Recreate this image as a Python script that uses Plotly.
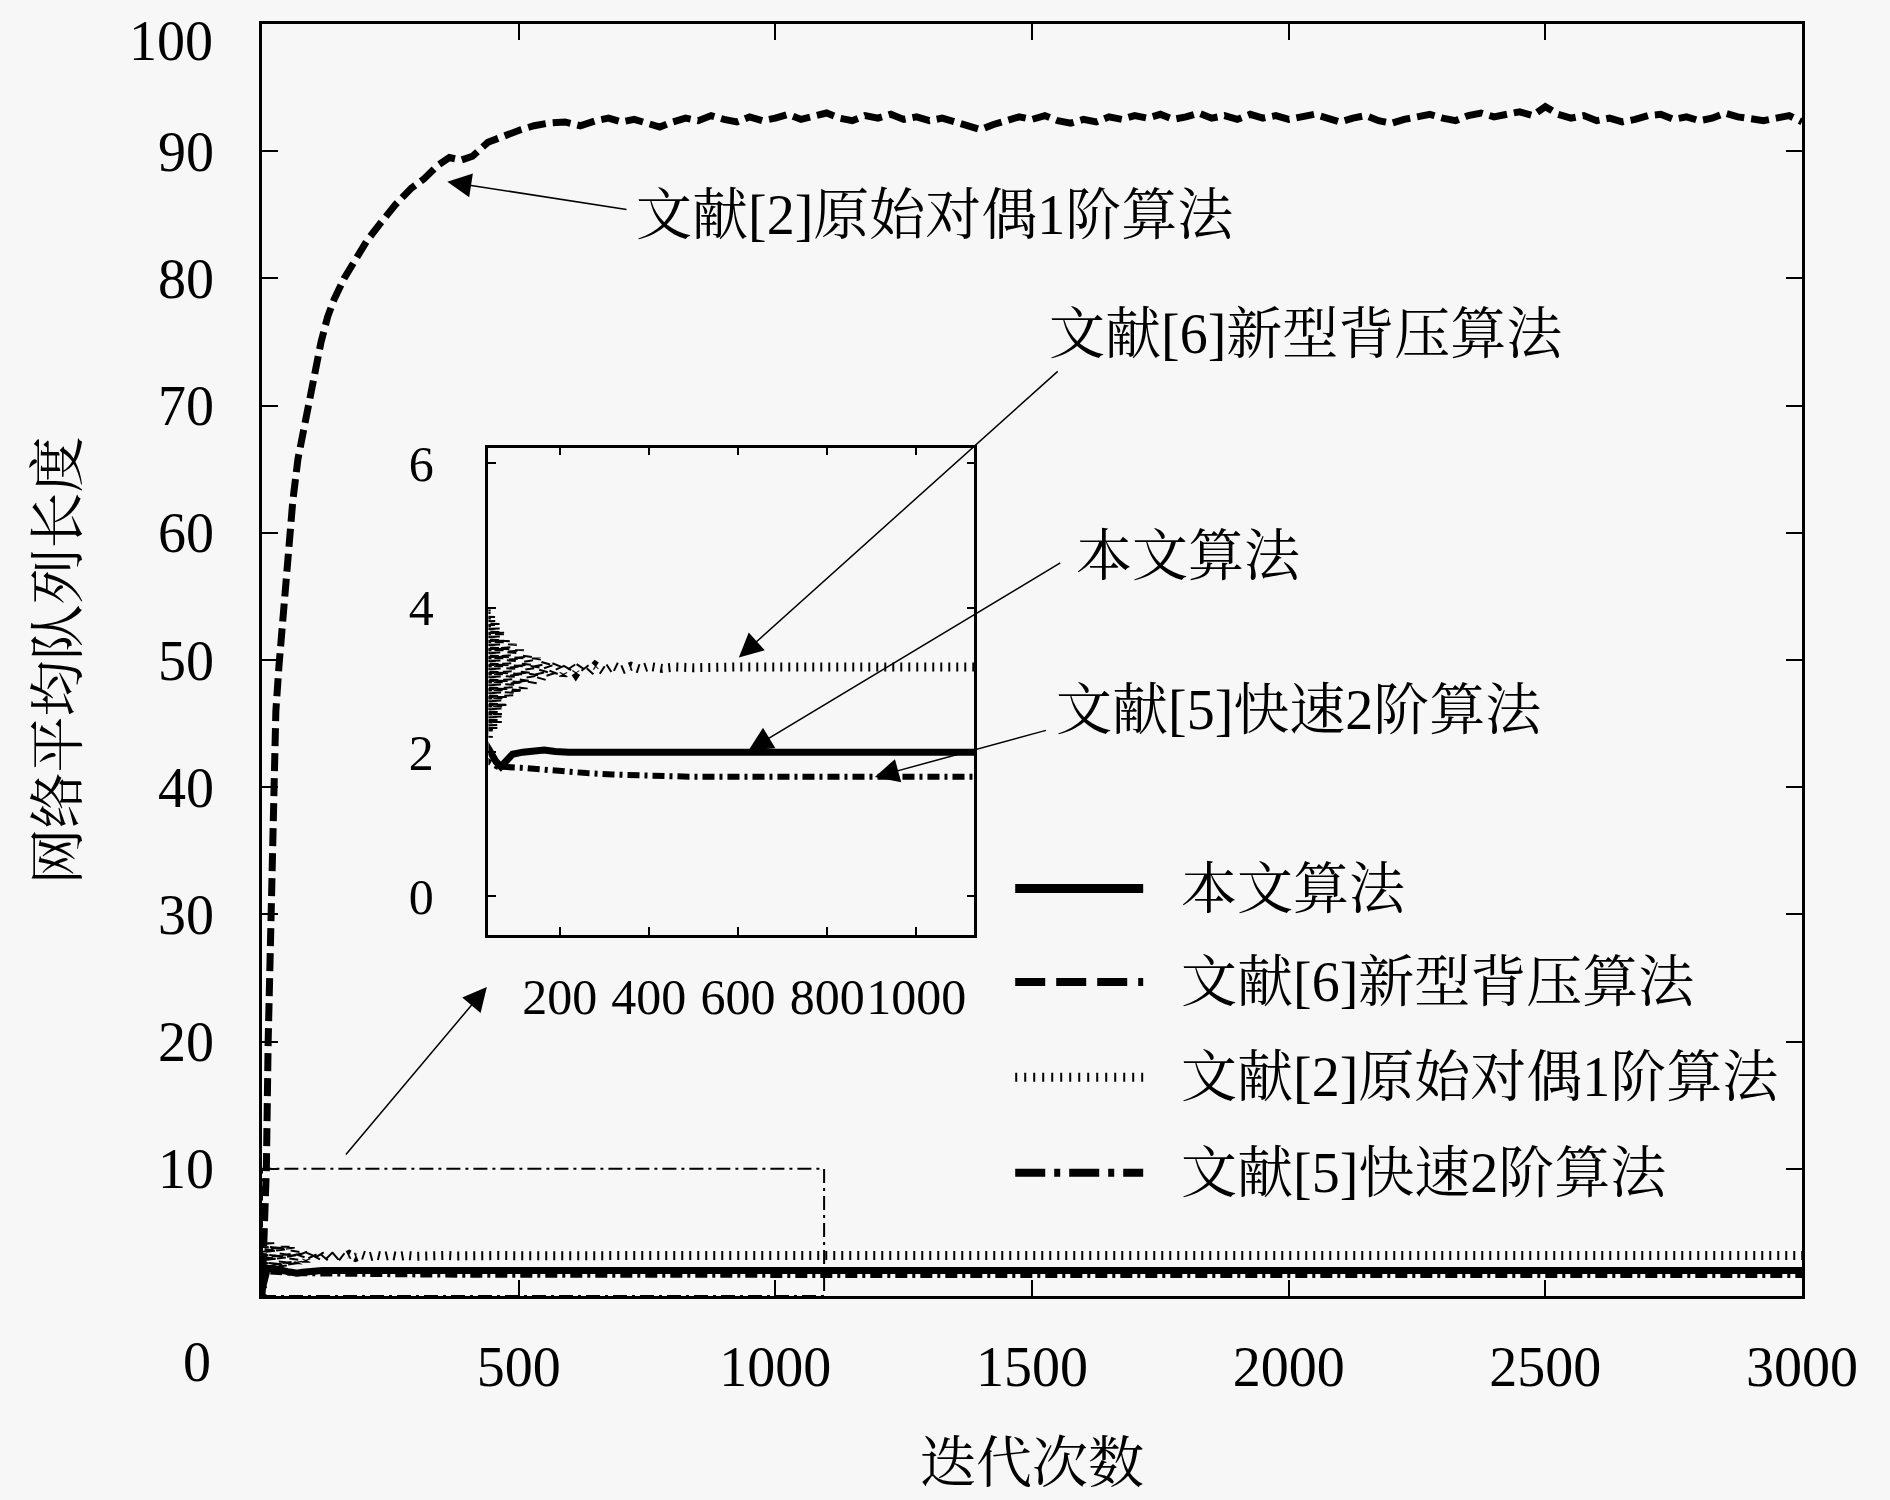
import plotly.graph_objects as go

# curva superior (tracejada) - chega a ~92
top_x = [0, 3, 6, 8.5, 12, 17, 21.5, 27, 33, 40, 50, 60, 70, 80, 90, 102, 115, 128, 141, 160,
         180, 205, 232, 260, 291, 315, 343, 365, 388, 410, 440, 470, 505, 530, 557, 590, 620,
         650, 675, 700, 725, 750, 775, 800, 825, 850, 875, 900, 925, 950, 975, 1000, 1025,
         1050, 1075, 1100, 1125, 1150, 1175, 1200, 1225, 1250, 1275, 1300, 1325, 1350, 1375,
         1400, 1425, 1450, 1475, 1500, 1525, 1550, 1575, 1600, 1625, 1650, 1675, 1700, 1725,
         1750, 1775, 1800, 1825, 1850, 1875, 1900, 1925, 1950, 1975, 2000, 2025, 2050, 2075,
         2100, 2125, 2150, 2175, 2200, 2225, 2250, 2275, 2300, 2325, 2350, 2375, 2400, 2425,
         2450, 2475, 2500, 2525, 2550, 2575, 2600, 2625, 2650, 2675, 2700, 2725, 2750, 2775,
         2800, 2825, 2850, 2875, 2900, 2925, 2950, 2975, 3000]
top_y = [0, 3, 7, 10, 20, 30, 39, 46, 49.5, 53, 58.5, 62.5, 65.8, 68, 70, 72.6, 75.0, 77, 78.4, 80,
         81.4, 83, 84.4, 85.8, 87.1, 87.8, 88.9, 89.5, 89.3, 89.6, 90.7, 91.2, 91.7, 92.0, 92.2, 92.3, 92.0,
         92.4, 92.6, 92.3, 92.5, 92.2, 91.9, 92.3, 92.6, 92.4, 92.8, 92.5, 92.3, 92.7, 92.4, 92.6, 92.9,
         92.5, 92.7, 93.0, 92.6, 92.4, 92.8, 92.6, 92.9, 92.5, 92.7, 92.4, 92.6, 92.3, 92.0,
         91.7, 92.1, 92.4, 92.7, 92.5, 92.8, 92.4, 92.2, 92.5, 92.3, 92.7, 92.5, 92.8, 92.6,
         92.9, 92.5, 92.7, 93.0, 92.6, 92.8, 92.5, 92.9, 92.6, 92.8, 92.5, 92.7, 92.9, 92.6,
         92.3, 92.6, 92.8, 92.4, 92.2, 92.5, 92.7, 92.9, 92.6, 92.4, 92.8, 93.0, 92.7, 92.9,
         93.1, 92.8, 93.5, 92.9, 92.6, 92.8, 92.4, 92.6, 92.3, 92.5, 92.8, 92.9, 92.5, 92.7,
         92.4, 92.6, 93.0, 92.7, 92.5, 92.4, 92.6, 92.8, 92.3]

# curva pontilhada (~3.2)
dot_x = [0, 5, 10, 15, 20, 25, 30, 35, 40, 45, 50, 55, 60, 65, 70, 78, 86, 94, 102, 110,
         118, 128, 138, 148, 158, 170, 182, 195, 208, 222, 236, 250, 265, 280, 300, 320, 340, 360, 380, 400,
         430, 460, 500, 550, 600, 650, 700, 800, 900, 1000, 1200, 1500, 2000, 2500, 3000]
dot_y = [0.0, 4.3, 2.0, 4.2, 2.1, 4.1, 2.2, 4.0, 2.2, 3.9, 2.3, 3.8, 2.4, 3.7, 2.6, 3.55, 2.75, 3.5, 2.8, 3.42,
         2.88, 3.35, 2.95, 3.3, 3.0, 3.26, 3.04, 3.24, 3.07, 3.22, 3.09, 3.22, 3.1, 3.2, 3.12, 3.2, 3.14, 3.19, 3.15, 3.19,
         3.16, 3.18, 3.17, 3.19, 3.18, 3.18, 3.18, 3.18, 3.18, 3.18, 3.18, 3.18, 3.18, 3.18, 3.18]

# curva continua (~2.0)
sol_x = [0, 5, 10, 20, 30, 40, 50, 57, 68, 79, 94, 117, 140, 165, 190, 220, 300, 500, 1000, 2000, 3000]
sol_y = [0.5, 1.6, 2.1, 2.2, 2.15, 2.05, 1.92, 1.87, 1.8, 1.87, 1.97, 2.0, 2.01, 2.03, 2.01, 2.0, 2.0, 2.0, 2.0, 2.0, 2.0]

# curva traco-ponto (~1.66)
dd_x = [0, 5, 10, 20, 30, 40, 60, 80, 102, 124, 160, 206, 260, 319, 380, 431, 490, 543, 700, 1000, 1500, 2000, 2500, 3000]
dd_y = [0.3, 1.5, 1.95, 1.95, 1.9, 1.87, 1.8, 1.8, 1.8, 1.78, 1.76, 1.73, 1.71, 1.69, 1.675, 1.665, 1.66, 1.66,
        1.66, 1.66, 1.66, 1.66, 1.66, 1.66]

main_xticks = [500, 1000, 1500, 2000, 2500, 3000]
main_yticks = [10, 20, 30, 40, 50, 60, 70, 80, 90, 100]
main_yticktext = ['10', '20', '30', '40', '50', '60', '70', '80', '90', '']
inset_xticks = [200, 400, 600, 800, 1000]
inset_yticks = [0, 2, 4, 6]

legend_names = ['本文算法', '文献[6]新型背压算法', '文献[2]原始对偶1阶算法', '文献[5]快速2阶算法']

FONT = 'Liberation Serif, Noto Serif CJK SC, Noto Sans CJK SC, serif'
BG = '#f7f7f7'

solid = dict(color='black', width=7)
dashed = dict(color='black', width=7, dash='18px,7px')
dotted = dict(color='black', width=9, dash='2px,6px')
dashdot = dict(color='black', width=6, dash='12px,5px,3px,5px')

fig = go.Figure()

# grafico principal
fig.add_trace(go.Scatter(x=top_x, y=top_y, mode='lines', line=dashed,
                         name='文献[2]原始对偶1阶算法', showlegend=False))
fig.add_trace(go.Scatter(x=dot_x, y=dot_y, mode='lines', line=dotted,
                         name='文献[6]新型背压算法', showlegend=False))
fig.add_trace(go.Scatter(x=dd_x, y=dd_y, mode='lines', line=dashdot,
                         name='文献[5]快速2阶算法', showlegend=False))
fig.add_trace(go.Scatter(x=sol_x, y=sol_y, mode='lines', line=solid,
                         name='本文算法', showlegend=False))

# grafico ampliado
fig.add_trace(go.Scatter(x=dot_x, y=dot_y, mode='lines', line=dotted, xaxis='x2', yaxis='y2', showlegend=False))
fig.add_trace(go.Scatter(x=dd_x, y=dd_y, mode='lines', line=dashdot, xaxis='x2', yaxis='y2', showlegend=False))
fig.add_trace(go.Scatter(x=sol_x, y=sol_y, mode='lines', line=solid, xaxis='x2', yaxis='y2', showlegend=False))

axis_common = dict(showline=True, linecolor='black', linewidth=2.5, mirror='ticks',
                   ticks='inside', tickcolor='black', showgrid=False, zeroline=False, tickangle=0)

fig.update_layout(
    width=1890, height=1500,
    margin=dict(l=262, r=88, t=16, b=204),
    paper_bgcolor=BG, plot_bgcolor=BG,
    font=dict(family=FONT, color='black', size=56),
    xaxis=dict(range=[0, 3000], domain=[0, 1], tickvals=main_xticks, ticklen=16, tickwidth=2,
               tickfont=dict(size=56), ticklabelstandoff=20, **axis_common),
    yaxis=dict(range=[0, 100], domain=[0, 1], tickvals=main_yticks, ticktext=main_yticktext,
               ticklen=16, tickwidth=2, tickfont=dict(size=56), ticklabelstandoff=34, **axis_common),
    xaxis2=dict(range=[40, 1130], domain=[0.147, 0.4625], anchor='y2', tickvals=inset_xticks,
                ticklen=8, tickwidth=1.5, tickfont=dict(size=50), ticklabelstandoff=16, **axis_common),
    yaxis2=dict(range=[-0.53, 6.22], domain=[0.284, 0.667], anchor='x2', tickvals=inset_yticks,
                ticklen=8, tickwidth=1.5, tickfont=dict(size=50), ticklabelstandoff=42, **axis_common),
)

# retangulo da area ampliada
fig.add_shape(type='rect', xref='x', yref='y', x0=0, x1=1095, y0=0, y1=10,
              line=dict(color='black', width=2, dash='14px,5px,3px,5px'))

# setas e rotulos
arrows = [
    (361, 87.6, 713, 85.4),
    (929, 50.2, 1553, 72.8),
    (948, 42.9, 1558, 57.7),
    (1194, 40.8, 1530, 44.5),
    (438, 24.3, 161, 11.0),
]
for hx, hy, tx, ty in arrows:
    fig.add_annotation(x=hx, y=hy, ax=tx, ay=ty, xref='x', yref='y', axref='x', ayref='y',
                       text='', showarrow=True, arrowhead=2, arrowsize=3.2, arrowwidth=1.5,
                       arrowcolor='black')

labels = [
    ('文献[2]原始对偶1阶算法', 725, 85.0),
    ('文献[6]新型背压算法', 1530, 75.6),
    ('本文算法', 1582, 58.2),
    ('文献[5]快速2阶算法', 1542, 46.1),
]
for txt, lx, ly in labels:
    fig.add_annotation(x=lx, y=ly, xref='x', yref='y', text=txt, showarrow=False,
                       xanchor='left', yanchor='middle', font=dict(size=56))

# legenda manual (amostras longas como no original)
legend_styles = [
    dict(color='black', width=9),
    dict(color='black', width=8, dash='30px,11px'),
    dict(color='black', width=9, dash='2px,7px'),
    dict(color='black', width=8, dash='30px,9px,6px,9px'),
]
legend_y = [0.3203, 0.2469, 0.1719, 0.0969]
for nome, estilo, ly in zip(legend_names, legend_styles, legend_y):
    fig.add_shape(type='line', xref='paper', yref='paper', x0=0.4891, x1=0.5722, y0=ly, y1=ly, line=estilo)
    fig.add_annotation(x=0.5956, y=ly, xref='paper', yref='paper', text=nome, showarrow=False,
                       xanchor='left', yanchor='middle', font=dict(size=56))

# titulos dos eixos, o "100" do topo e o "0" do canto
fig.add_annotation(x=0.5, y=-0.1316, xref='paper', yref='paper', text='迭代次数', showarrow=False,
                   xanchor='center', yanchor='middle', font=dict(size=56))
fig.add_annotation(x=-0.1322, y=0.5, xref='paper', yref='paper', text='网络平均队列长度', showarrow=False,
                   textangle=-90, xanchor='center', yanchor='middle', font=dict(size=56))
fig.add_annotation(x=-0.0423, y=-0.052, xref='paper', yref='paper', text='0', showarrow=False,
                   xanchor='center', yanchor='middle', font=dict(size=56))
fig.add_annotation(x=-0.031, y=1.0115, xref='paper', yref='paper', text='100', showarrow=False,
                   xanchor='right', yanchor='top', borderpad=0, font=dict(size=56))

# sem margem do body, para a figura ocupar a janela como no original
fig.write_html("out.html", config={'displayModeBar': False},
               post_script="document.body.style.margin='0';document.body.style.background='%s';" % BG)
